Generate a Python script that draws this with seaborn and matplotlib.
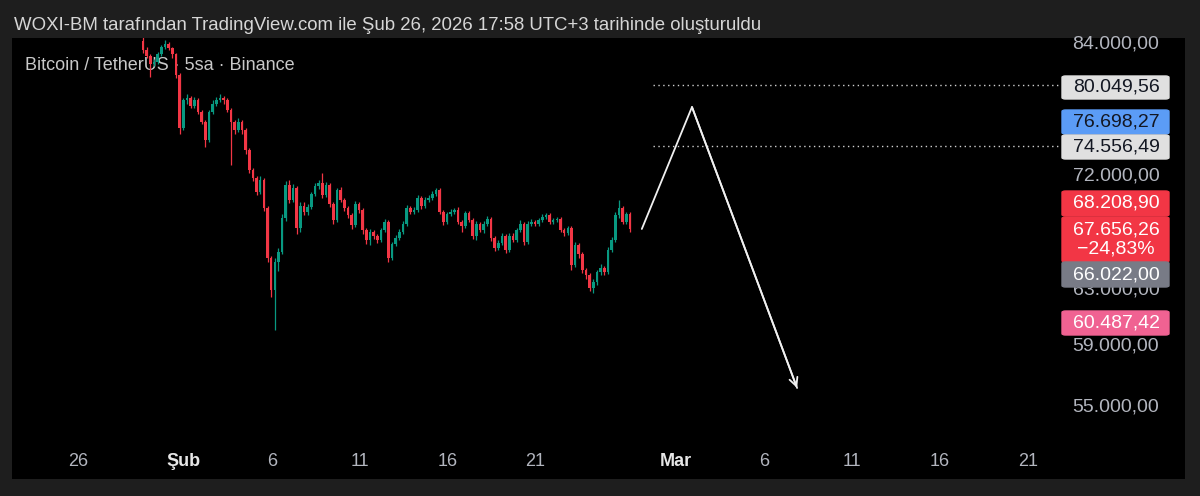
"""
BTC/USDT 5h candles with a projected path - TradingView style snapshot
"""
import numpy as np
import pandas as pd
import matplotlib
matplotlib.use("Agg")
import matplotlib.pyplot as plt
import matplotlib.transforms as mtransforms
from matplotlib.patches import FancyBboxPatch
import seaborn as sns


# ─────────────────────────────────────────────
#  Data
# ─────────────────────────────────────────────

candle_start = "2026-01-29 16:00"
candle_hours = 5
first_open = 84295

closes = [83413, 82831, 82060, 82252, 83024, 83706, 84000, 83608, 83024, 81013,
          76149, 78680, 78864, 78131, 78680, 77586, 76685, 75089, 77586, 78314,
          78680, 78864, 78680, 77767, 76685, 75971, 76685, 75971, 74217, 72503,
          71828, 70664, 71661, 69355, 65420, 63019, 65115, 65880, 68550, 71243,
          70006, 70994, 67755, 69517, 69032, 69436, 70499, 71160, 71410, 70417,
          71243, 69680, 68390, 70829, 70006, 69355, 68790, 67992, 69680, 69193,
          67595, 66810, 67438, 67124, 66810, 67595, 68231, 65420, 66500, 66968,
          67438, 68072, 69355, 69032, 69193, 70170, 69517, 70006, 70170, 70499,
          70829, 69032, 68231, 68871, 69032, 69193, 68231, 67913, 68951, 68390,
          67124, 68072, 67595, 68072, 68470, 66968, 66190, 66578, 67124, 66034,
          67124, 66810, 67595, 68072, 66656, 68072, 68231, 68072, 68390, 68630,
          68790, 68231, 68390, 68470, 67595, 67359, 67755, 64887, 66423, 65727,
          64509, 64133, 63163, 63609, 64358, 64660, 64358, 66034, 66810, 68790,
          69355, 68231, 68871, 67656]

highs = [84789, 83700, 83020, 82540, 83220, 83900, 84400, 84200, 83700, 83120,
         81200, 78900, 79250, 79050, 78960, 78860, 77760, 76860, 77770, 78680,
         78950, 79240, 79050, 78860, 77950, 76860, 77050, 76860, 76150, 74400,
         72680, 72000, 71990, 71830, 69520, 65580, 65420, 66180, 68870, 71580,
         71660, 71330, 71160, 69840, 69840, 69680, 70670, 71410, 71660, 72249,
         71500, 71410, 69850, 71000, 71080, 70170, 69520, 68950, 69930, 69850,
         69350, 67760, 67680, 67600, 67280, 67760, 68470, 68390, 66660, 67200,
         67680, 68310, 69600, 69520, 69440, 70420, 70330, 70250, 70420, 70750,
         70994, 71000, 69190, 69030, 69270, 69350, 69440, 68390, 69110, 69110,
         68550, 68310, 68230, 68310, 68710, 68630, 67130, 66810, 67360, 67280,
         67360, 67360, 67760, 68390, 68230, 68310, 68470, 68390, 68550, 68870,
         68950, 68950, 68550, 68630, 68630, 67760, 67910, 67910, 66650, 66580,
         65880, 64660, 64280, 63830, 64510, 64960, 64810, 66250, 67050, 69030,
         70006, 69520, 69030, 69030]

lows = [83121, 82640, 80824, 81870, 82060, 82830, 83500, 83410, 82640, 80730,
        75617, 75970, 78310, 77950, 77950, 77400, 76500, 74477, 74900, 77400,
        78130, 78500, 78310, 77590, 72927, 75620, 75790, 75620, 73900, 72250,
        71580, 70420, 70500, 69110, 65110, 62506, 60141, 64430, 65730, 68310,
        69760, 69840, 67280, 67440, 68790, 68800, 69280, 70330, 70910, 70170,
        70250, 69440, 68070, 68230, 69840, 69110, 68550, 67680, 67830, 68950,
        67280, 66500, 66420, 66890, 66580, 66650, 67440, 65115, 65270, 66340,
        66810, 67280, 67910, 68870, 68870, 69030, 69280, 69360, 69840, 70000,
        70330, 68870, 67990, 68070, 68710, 68870, 68070, 67440, 67760, 68230,
        66890, 66810, 67440, 67360, 67910, 66730, 65960, 66030, 66420, 65800,
        65880, 66650, 66650, 67440, 66420, 66500, 67910, 67910, 67910, 68230,
        68470, 68070, 68070, 68230, 67440, 67120, 67200, 64510, 64730, 65420,
        64280, 63830, 62940, 62798, 63390, 64130, 64130, 64200, 65880, 66650,
        68550, 68070, 68070, 67440]

# drawn projection (up then down with arrow)
proj_times = ["2026-02-27 01:00", "2026-03-01 21:30", "2026-03-07 21:00"]
proj_prices = [67676, 78040, 56204]

# dotted horizontal levels
level_prices = [80049.56, 74556.49]

# price scale tags
tag_texts = ["80.049,56", "76.698,27", "74.556,49", "68.208,90",
             "67.656,26\n\u221224,83%", "66.022,00", "60.487,42"]
axis_prices = [84000, 72000, 63000, 59000, 55000]

date_ticks = ["2026-01-26", "2026-02-01", "2026-02-06", "2026-02-11", "2026-02-16",
              "2026-02-21", "2026-03-01", "2026-03-06", "2026-03-11", "2026-03-16",
              "2026-03-21"]
date_labels = ["26", "Şub", "6", "11", "16", "21", "Mar", "6", "11", "16", "21"]

title = "WOXI-BM tarafından TradingView.com ile Şub 26, 2026 17:58 UTC+3 tarihinde oluşturuldu"
legend = "Bitcoin / TetherUS \u00b7 5sa \u00b7 Binance"


# ─────────────────────────────────────────────
#  Style
# ─────────────────────────────────────────────

W, H = 1200, 496
FRAME = "#1e1e1e"
GREEN = "#089981"
RED = "#f23645"
AXIS_TXT = "#b2b5be"
SCALE_FS = 14

sns.set_theme(style="dark", rc={"axes.facecolor": "black",
                                "figure.facecolor": FRAME})
plt.rcParams["font.family"] = ["Liberation Sans", "DejaVu Sans"]

origin = pd.Timestamp("2026-02-01")


def to_days(ts):
    return (pd.to_datetime(ts) - origin) / pd.Timedelta(days=1)


def fmt_price(v):
    s = f"{v:,.2f}"
    return s.replace(",", "X").replace(".", ",").replace("X", ".")


# ─────────────────────────────────────────────
#  Candles
# ─────────────────────────────────────────────

times = pd.date_range(candle_start, periods=len(closes), freq=f"{candle_hours}h")
df = pd.DataFrame({"x": to_days(times), "close": closes,
                   "high": highs, "low": lows})
df["open"] = [first_open] + closes[:-1]
up = df["close"] >= df["open"]
colors = np.where(up, GREEN, RED)

fig = plt.figure(figsize=(W / 100, H / 100), dpi=100)
# black chart panel: x 12..1185, y 38..479 (pixels from top)
ax = fig.add_axes([12 / W, 1 - 479 / H, (1185 - 12) / W, (479 - 38) / H])
ax.set_yscale("log")

ax.vlines(df["x"], df["low"], df["high"], colors=colors, lw=0.9, zorder=3)
body_lo = np.minimum(df["open"], df["close"])
body_h = (df["close"] - df["open"]).abs().clip(lower=60)
ax.bar(df["x"], body_h, bottom=body_lo, width=0.15, color=colors,
       linewidth=0, zorder=4)

# dotted levels
lvl_x0, lvl_x1 = to_days("2026-02-27 16:00"), to_days("2026-03-22 19:00")
ax.hlines(level_prices, lvl_x0, lvl_x1, colors="#d0d0d0", lw=1.0,
          linestyles=(0, (1, 2.5)), zorder=2)

# projection path
px = to_days(proj_times)
sns.lineplot(x=np.asarray(px), y=proj_prices, ax=ax, color="#f0f0f0", lw=1.3,
             sort=False, zorder=5)
ax.annotate("", xy=(px[2], proj_prices[2]), xytext=(px[1], proj_prices[1]),
            arrowprops=dict(arrowstyle="->", color="#f0f0f0", lw=1.3,
                            mutation_scale=15, shrinkA=0, shrinkB=0), zorder=5)

ax.set_xlim((12 - 184) / 17.58, (1185 - 184) / 17.58)
ax.set_ylim(50535, 84590)
ax.set_xlabel("")
ax.set_ylabel("")
ax.grid(False)
ax.tick_params(which="both", left=False, bottom=False,
               labelleft=False, labelbottom=False)
for s in ax.spines.values():
    s.set_visible(False)

# date labels
bt = mtransforms.blended_transform_factory(ax.transData, ax.transAxes)
for d, lab in zip(date_ticks, date_labels):
    month = not lab.isdigit()
    ax.text(to_days(d), (479 - 461) / 441, lab, transform=bt, ha="center",
            va="center", fontsize=13, color="#e6e6e6" if month else AXIS_TXT,
            fontweight="bold" if month else "normal")

# price axis labels
pt = mtransforms.blended_transform_factory(ax.transAxes, ax.transData)
for p in axis_prices:
    ax.text((1116 - 12) / 1173, p, fmt_price(p), transform=pt, ha="center",
            va="center", fontsize=SCALE_FS, color=AXIS_TXT)

# price tags (layout in pixels from top)
tag_rows = [(76, 99), (110, 134), (135, 159), (191, 216), (217, 262),
            (262, 287), (311, 335)]
tag_bg = ["#e0e0e0", "#5b9cf6", "#e0e0e0", RED, RED, "#787b86", "#f06292"]
tag_fg = ["#131722", "#131722", "#131722", "white", "white", "white", "white"]
for txt, (t, b), bg, fg in zip(tag_texts, tag_rows, tag_bg, tag_fg):
    fig.patches.append(FancyBboxPatch((1062 / W, 1 - b / H), 107 / W, (b - t) / H,
                                      boxstyle="round,pad=0,rounding_size=0.003",
                                      transform=fig.transFigure, color=bg,
                                      zorder=5))
    fig.text(1116 / W, 1 - (t + b) / 2 / H, txt, ha="center", va="center",
             fontsize=SCALE_FS, color=fg, linespacing=1.1, zorder=6)

# header texts
fig.text(14 / W, 1 - 26 / H, title, ha="left", va="center",
         fontsize=13.4, color="#d6d6d6")
ax.text(25 / W, 1 - 66 / H, legend, transform=fig.transFigure, ha="left",
        va="center", fontsize=13, color="#c8c8c8", zorder=1)

fig.savefig("out.png", dpi=100, facecolor=FRAME)
plt.close(fig)
